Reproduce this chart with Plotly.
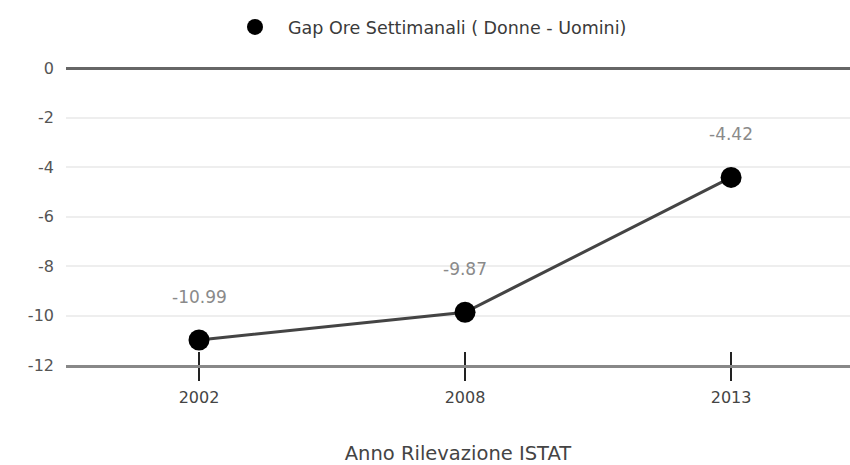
import plotly.graph_objects as go

# Survey years and weekly hours gap (women minus men)
anni = ["2002", "2008", "2013"]
gap_ore = [-10.99, -9.87, -4.42]
serie_nome = "Gap Ore Settimanali ( Donne - Uomini)"
titolo_x = "Anno Rilevazione ISTAT"
y_ticks = [0, -2, -4, -6, -8, -10, -12]

font_fam = "DejaVu Sans, Verdana, sans-serif"

fig = go.Figure()
# connecting line (kept out of the legend)
fig.add_trace(go.Scatter(
    x=anni, y=gap_ore, mode="lines", showlegend=False,
    line=dict(color="#444444", width=3), hoverinfo="skip",
))
# points with the legend entry
fig.add_trace(go.Scatter(
    x=anni, y=gap_ore, mode="markers", name=serie_nome,
    marker=dict(color="#000000", size=21),
    cliponaxis=False,
))

# Value labels above each point (category axis -> index positions)
for i, v in enumerate(gap_ore):
    fig.add_annotation(x=i, y=v, text=f"{v:.2f}", showarrow=False,
                       yshift=43, font=dict(family=font_fam, size=17, color="#8a8a8a"))

# Invisible trace on an overlay axis so tick marks also rise above the axis line
fig.add_trace(go.Scatter(x=anni, y=gap_ore, xaxis="x2", mode="markers",
                         marker=dict(opacity=0), showlegend=False, hoverinfo="skip"))

fig.update_layout(
    width=850, height=465,
    margin=dict(l=66, r=0, t=68, b=100),
    paper_bgcolor="white", plot_bgcolor="white",
    font=dict(family=font_fam, size=16, color="#444444"),
    showlegend=True,
    legend=dict(orientation="h", x=222 / 850, xref="container", xanchor="left",
                y=1 - 27 / 465, yref="container", yanchor="middle",
                itemwidth=56,
                font=dict(family=font_fam, size=17.5, color="#3a3a3a")),
    xaxis=dict(type="category", range=[-0.5, 2.447], showgrid=False,
               showline=True, linecolor="#888888", linewidth=3,
               ticks="outside", ticklen=13, tickwidth=2, tickcolor="#222222",
               ticklabelstandoff=3, automargin=False,
               tickfont=dict(size=16, color="#444444"),
               title=dict(text=titolo_x, standoff=48,
                          font=dict(size=19.5, color="#444444")),
               zeroline=False),
    xaxis2=dict(type="category", range=[-0.5, 2.447], overlaying="x", anchor="y",
                side="bottom", showgrid=False, showline=False,
                ticks="inside", ticklen=13, tickwidth=2, tickcolor="#222222",
                showticklabels=False, automargin=False),
    yaxis=dict(range=[-12, 0], tickvals=y_ticks, ticktext=[str(t) for t in y_ticks],
               showgrid=True, gridcolor="#eeeeee", gridwidth=2,
               zeroline=True, zerolinecolor="#666666", zerolinewidth=3,
               showline=False, ticklabelstandoff=11,
               tickfont=dict(size=16, color="#555555")),
)

fig.write_html("out.html")
